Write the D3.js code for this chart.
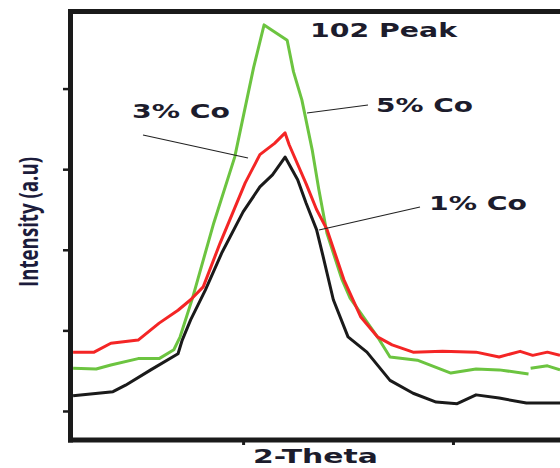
<!DOCTYPE html>
<html>
<head>
<meta charset="utf-8">
<script src="https://cdnjs.cloudflare.com/ajax/libs/d3/7.8.5/d3.min.js"></script>
<style>
  body { margin: 0; background: #fff; }
  .curve { fill: none; stroke-width: 3px; stroke-linejoin: round; }
  .lbl { font-family: "DejaVu Sans", Verdana, sans-serif; font-weight: bold; fill: #1c1c2c; }
  .leader { stroke: #222; stroke-width: 1.2px; }
</style>
</head>
<body>
<script>

// 2-theta (deg) and intensity values
var theta1 = [35.19,35.38,35.44,35.56,35.69,35.71,35.75,35.82,35.90,36.00,36.08,36.14,36.20,36.26,36.30,36.35,36.38,36.43,36.50,36.59,36.70,36.81,36.92,37.02,37.11,37.22,37.35,37.51];
var co1    = [119,124,132,151,171,188,213,250,297,347,378,393,415,387,358,325,293,238,192,173,138,122,111,109,120,116,110,110];

var theta3 = [35.19,35.29,35.37,35.50,35.60,35.69,35.75,35.81,35.89,36.01,36.08,36.15,36.20,36.22,36.30,36.35,36.40,36.48,36.56,36.64,36.71,36.81,36.95,37.11,37.22,37.32,37.38,37.45,37.51];
var co3    = [173,173,184,188,209,225,238,254,308,383,418,432,445,430,382,350,325,263,217,192,182,173,174,173,167,174,169,173,169];

var theta5 = [35.19,35.30,35.37,35.50,35.60,35.67,35.70,35.76,35.86,35.96,36.05,36.10,36.21,36.24,36.28,36.33,36.36,36.40,36.47,36.51,36.64,36.70,36.83,36.99,37.11,37.22,37.36,37.365,37.37,37.45,37.51];
var co5    = [153,152,157,165,165,176,192,241,333,415,526,579,560,521,486,423,376,320,264,240,192,167,163,147,152,151,146,null,153,156,151];

var xTicks = [36, 37];
var yTicks = [100, 200, 300, 400, 500];

var W = 560, H = 468;
var margin = {top: 12, right: 0, bottom: 28, left: 71};

var svg = d3.select("body").append("svg")
    .attr("width", W)
    .attr("height", H);

var x = d3.scaleLinear().domain([35.18, 37.51]).range([margin.left, W - margin.right]);
var y = d3.scaleLinear().domain([64, 595]).range([H - margin.bottom, margin.top]);

// curves
var series = [
  {xs: theta1, ys: co1, color: "#1a1a1a"},
  {xs: theta3, ys: co3, color: "#f42525"},
  {xs: theta5, ys: co5, color: "#6cc440"}
];

var line = d3.line()
    .defined(function(d) { return d[1] != null; })
    .x(function(d) { return x(d[0]); })
    .y(function(d) { return y(d[1]); });

// black first, then green, red on top
[series[0], series[2], series[1]].forEach(function(s) {
  var pts = s.xs.map(function(v, i) { return [v, s.ys[i]]; });
  svg.append("path")
      .datum(pts)
      .attr("class", "curve")
      .attr("stroke", s.color)
      .attr("d", line);
});

// axes
var xAxis = svg.append("g")
    .attr("transform", "translate(0," + (H - margin.bottom) + ")")
    .call(d3.axisBottom(x).tickValues(xTicks).tickSize(5).tickFormat(""));
xAxis.select(".domain").remove();
xAxis.selectAll(".tick line").attr("stroke", "#1a1a1a").attr("stroke-width", 3);

var yAxis = svg.append("g")
    .attr("transform", "translate(" + margin.left + ",0)")
    .call(d3.axisLeft(y).tickValues(yTicks).tickSize(8).tickFormat(""));
yAxis.select(".domain").remove();
yAxis.selectAll(".tick line").attr("stroke", "#1a1a1a").attr("stroke-width", 2.5);

// thick frame lines: left, bottom, top
svg.append("line").attr("x1", margin.left - 0.5).attr("x2", margin.left - 0.5)
    .attr("y1", margin.top - 2.5).attr("y2", H - margin.bottom + 2.5)
    .attr("stroke", "#1a1a1a").attr("stroke-width", 5);
svg.append("line").attr("x1", margin.left - 3).attr("x2", W)
    .attr("y1", H - margin.bottom).attr("y2", H - margin.bottom)
    .attr("stroke", "#1a1a1a").attr("stroke-width", 5);
svg.append("line").attr("x1", margin.left - 3).attr("x2", W)
    .attr("y1", margin.top - 0.5).attr("y2", margin.top - 0.5)
    .attr("stroke", "#1a1a1a").attr("stroke-width", 5);

// leader lines
var leaders = [[143,135,248,158],[307,113,368,105],[319,230,420,207]];
leaders.forEach(function(l) {
  svg.append("line").attr("class", "leader")
      .attr("x1", l[0]).attr("y1", l[1]).attr("x2", l[2]).attr("y2", l[3]);
});

// texts
function label(txt, px, py, len, size) {
  svg.append("text").attr("class", "lbl")
      .attr("x", px).attr("y", py)
      .attr("font-size", size)
      .attr("textLength", len)
      .attr("lengthAdjust", "spacingAndGlyphs")
      .text(txt);
}
label("102 Peak", 310, 37, 147, 20);
label("3% Co", 132, 118, 98, 20);
label("5% Co", 376, 112, 97, 20);
label("1% Co", 429, 210, 98, 20);
label("2-Theta", 253, 463, 125, 19);

svg.append("text")
    .attr("transform", "translate(38,222) rotate(-90) scale(1,1.4)")
    .attr("text-anchor", "middle")
    .attr("font-family", "'Open Sans', sans-serif")
    .attr("font-weight", "bold")
    .attr("font-size", 19)
    .attr("fill", "#1c1c3c")
    .attr("textLength", 130)
    .attr("lengthAdjust", "spacingAndGlyphs")
    .text("Intensity (a.u)");

</script>
</body>
</html>
